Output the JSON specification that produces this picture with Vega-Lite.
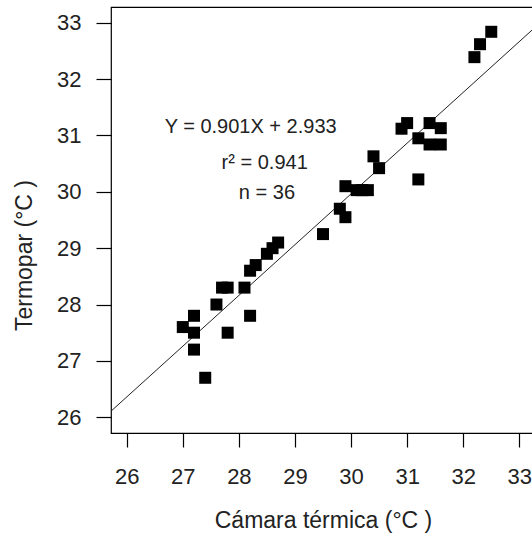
{
  "$schema": "https://vega.github.io/schema/vega-lite/v6.json",
  "autosize": {"type": "none"},
  "padding": {"left": 111, "top": 7, "right": 0, "bottom": 102},
  "width": 424,
  "height": 426,
  "background": "white",
  "config": {
    "font": "Liberation Sans",
    "view": {"stroke": "black", "strokeWidth": 1.2},
    "axis": {
      "domain": false,
      "grid": false,
      "tickColor": "black",
      "tickWidth": 1.2,
      "labelColor": "#222",
      "titleColor": "#222",
      "labelFont": "Liberation Sans",
      "titleFont": "Liberation Sans",
      "labelFontSize": 22,
      "titleFontSize": 23,
      "labelFontWeight": "normal",
      "titleFontWeight": "normal",
      "format": "d"
    }
  },
  "datasets": {
    "pts": [
      {"camara": 27.0, "termopar": 27.6},
      {"camara": 27.2, "termopar": 27.5},
      {"camara": 27.2, "termopar": 27.8},
      {"camara": 27.2, "termopar": 27.2},
      {"camara": 27.4, "termopar": 26.7},
      {"camara": 27.6, "termopar": 28.0},
      {"camara": 27.7, "termopar": 28.3},
      {"camara": 27.8, "termopar": 28.3},
      {"camara": 27.8, "termopar": 27.5},
      {"camara": 28.1, "termopar": 28.3},
      {"camara": 28.2, "termopar": 27.8},
      {"camara": 28.2, "termopar": 28.6},
      {"camara": 28.3, "termopar": 28.7},
      {"camara": 28.5, "termopar": 28.9},
      {"camara": 28.6, "termopar": 29.0},
      {"camara": 28.7, "termopar": 29.1},
      {"camara": 29.5, "termopar": 29.25},
      {"camara": 29.8, "termopar": 29.7},
      {"camara": 29.9, "termopar": 29.55},
      {"camara": 29.9, "termopar": 30.1},
      {"camara": 30.1, "termopar": 30.03},
      {"camara": 30.2, "termopar": 30.03},
      {"camara": 30.3, "termopar": 30.03},
      {"camara": 30.4, "termopar": 30.63},
      {"camara": 30.5, "termopar": 30.42},
      {"camara": 30.9, "termopar": 31.12},
      {"camara": 31.0, "termopar": 31.22},
      {"camara": 31.2, "termopar": 30.95},
      {"camara": 31.2, "termopar": 30.22},
      {"camara": 31.4, "termopar": 31.22},
      {"camara": 31.6, "termopar": 31.13},
      {"camara": 31.4, "termopar": 30.84},
      {"camara": 31.6, "termopar": 30.84},
      {"camara": 32.2, "termopar": 32.39},
      {"camara": 32.3, "termopar": 32.62},
      {"camara": 32.5, "termopar": 32.84}
    ],
    "fit": [
      {"camara": 25.72, "termopar": 26.107},
      {"camara": 33.28, "termopar": 32.918}
    ],
    "labels": [
      {"camara": 28.21, "termopar": 31.15, "txt": "Y = 0.901X + 2.933"},
      {"camara": 28.46, "termopar": 30.51, "txt": "r² = 0.941"},
      {"camara": 28.5, "termopar": 29.98, "txt": "n = 36"}
    ]
  },
  "layer": [
    {
      "data": {"name": "fit"},
      "mark": {"type": "line", "color": "#222", "strokeWidth": 1, "clip": true},
      "encoding": {
        "x": {"field": "camara", "type": "quantitative"},
        "y": {"field": "termopar", "type": "quantitative"}
      }
    },
    {
      "data": {"name": "pts"},
      "mark": {"type": "point", "shape": "square", "filled": true, "color": "black", "opacity": 1, "size": 144},
      "encoding": {
        "x": {
          "field": "camara", "type": "quantitative",
          "scale": {"domain": [25.72, 33.28], "nice": false, "zero": false},
          "axis": {"title": "Cámara térmica (°C )", "values": [26, 27, 28, 29, 30, 31, 32, 33], "tickSize": 14, "labelPadding": 19, "titlePadding": 22}
        },
        "y": {
          "field": "termopar", "type": "quantitative",
          "scale": {"domain": [25.72, 33.28], "nice": false, "zero": false},
          "axis": {"title": "Termopar (°C )", "values": [26, 27, 28, 29, 30, 31, 32, 33], "tickSize": 15, "labelPadding": 15, "titlePadding": 20, "titleY": 248}
        }
      }
    },
    {
      "data": {"name": "labels"},
      "mark": {"type": "text", "fontSize": 20, "font": "Liberation Sans", "color": "#222", "align": "center", "baseline": "middle"},
      "encoding": {
        "x": {"field": "camara", "type": "quantitative"},
        "y": {"field": "termopar", "type": "quantitative"},
        "text": {"field": "txt"}
      }
    }
  ]
}
